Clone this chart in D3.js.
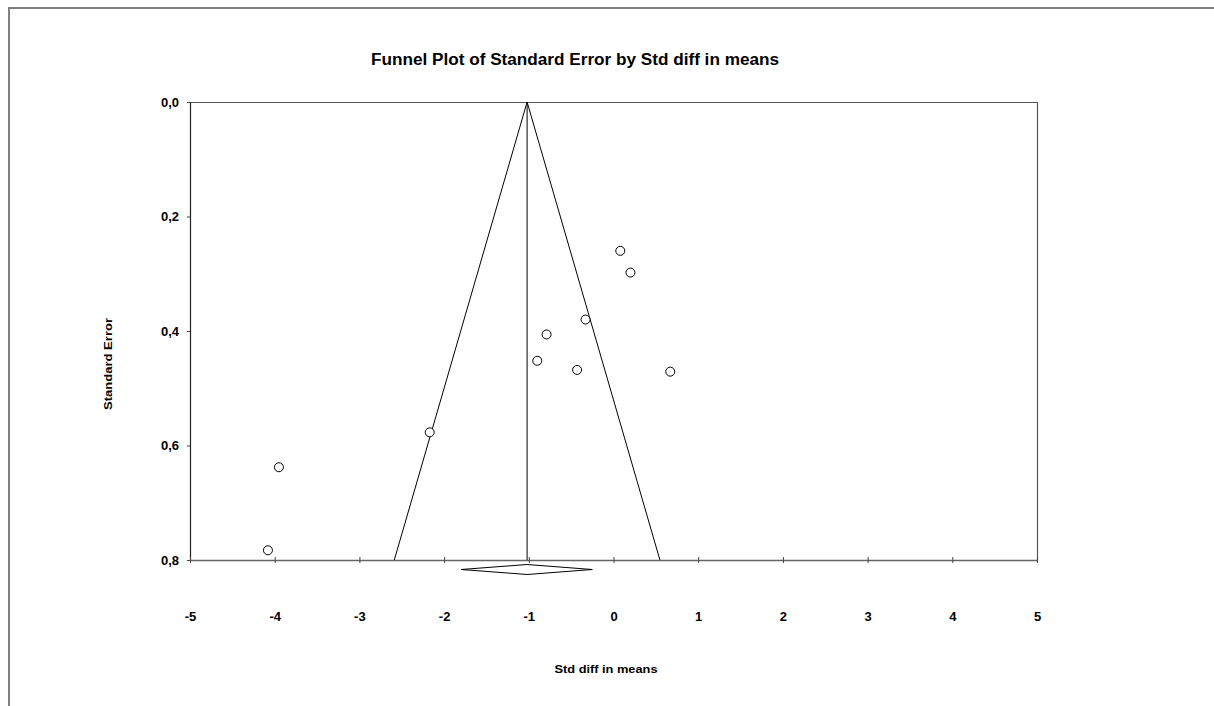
<!DOCTYPE html>
<html>
<head>
<meta charset="utf-8">
<script src="https://cdn.jsdelivr.net/npm/d3@7"></script>
<style>
  html, body { margin: 0; padding: 0; background: #fff; }
  svg { display: block; }
  text { font-family: "Liberation Sans", Arial, sans-serif; fill: #000; }
</style>
</head>
<body>
<svg id="chart" width="1214" height="706"></svg>
<script>
// Study-level effects (standardized difference in means) and their standard errors
const studyEffect = [-4.08, -3.95, -2.17, -0.90, -0.79, -0.43, -0.33, 0.08, 0.20, 0.67];
const studySE     = [0.783, 0.638, 0.577, 0.452, 0.406, 0.468, 0.380, 0.260, 0.298, 0.471];

// Pooled estimate and its 95% confidence interval
const pooledEffect = -1.02;
const pooledLower  = -1.80;
const pooledUpper  = -0.25;

// Axis ticks
const xTicks = [-5, -4, -3, -2, -1, 0, 1, 2, 3, 4, 5];
const yTicks = [0.0, 0.2, 0.4, 0.6, 0.8];
const seMax = 0.8;

const svg = d3.select("#chart");

// Outer frame (left and top edges)
svg.append("path")
  .attr("d", "M9,706 L9,8 L1214,8")
  .attr("fill", "none")
  .attr("stroke", "#808080")
  .attr("stroke-width", 2);

const plot = { left: 190, right: 1037, top: 102, bottom: 560 };

const x = d3.scaleLinear().domain([-5, 5]).range([plot.left, plot.right]);
const y = d3.scaleLinear().domain([0, seMax]).range([plot.top, plot.bottom]);

// Title
svg.append("text")
  .attr("x", 575).attr("y", 65)
  .attr("text-anchor", "middle")
  .attr("font-weight", "bold")
  .attr("font-size", 16)
  .attr("textLength", 408)
  .attr("lengthAdjust", "spacingAndGlyphs")
  .text("Funnel Plot of Standard Error by Std diff in means");

// Plot box: top and right edges
svg.append("path")
  .attr("d", `M${plot.left},${plot.top + 0.5} L${plot.right + 0.5},${plot.top + 0.5} L${plot.right + 0.5},${plot.bottom}`)
  .attr("fill", "none")
  .attr("stroke", "#555")
  .attr("stroke-width", 1.2);

// Y axis (standard error, increasing downward)
const yAxis = svg.append("g")
  .attr("transform", `translate(${plot.left},0)`)
  .call(d3.axisLeft(y)
    .tickValues(yTicks)
    .tickSize(3)
    .tickPadding(8)
    .tickSizeOuter(0)
    .tickFormat(d => d3.format(".1f")(d).replace(".", ",")));
yAxis.select(".domain").attr("stroke", "#222").attr("stroke-width", 1.2);
yAxis.selectAll(".tick line").attr("stroke", "#444");
yAxis.selectAll("text")
  .attr("font-family", "'Liberation Sans', Arial, sans-serif")
  .attr("font-weight", "bold")
  .attr("font-size", 13)
  .attr("fill", "#000");

// X axis (std diff in means)
const xAxis = svg.append("g")
  .attr("transform", `translate(0,${plot.bottom})`)
  .call(d3.axisBottom(x)
    .tickValues(xTicks)
    .tickSize(3)
    .tickSizeOuter(0)
    .tickFormat(d3.format("d")));
xAxis.select(".domain").attr("stroke", "#666").attr("stroke-width", 1.5);
xAxis.selectAll(".tick line").attr("y1", -3).attr("y2", 3).attr("stroke", "#444");
xAxis.selectAll("text")
  .attr("y", 56)
  .attr("dy", "0.35em")
  .attr("font-family", "'Liberation Sans', Arial, sans-serif")
  .attr("font-weight", "bold")
  .attr("font-size", 13)
  .attr("fill", "#000")
  .text(d => d < 0 ? "-" + Math.abs(d) : String(d));

// Axis titles
svg.append("text")
  .attr("transform", `translate(112,364) rotate(-90)`)
  .attr("text-anchor", "middle")
  .attr("font-weight", "bold")
  .attr("font-size", 11.5)
  .attr("textLength", 92)
  .attr("lengthAdjust", "spacingAndGlyphs")
  .text("Standard Error");

svg.append("text")
  .attr("x", 606).attr("y", 673)
  .attr("text-anchor", "middle")
  .attr("font-weight", "bold")
  .attr("font-size", 11.5)
  .attr("textLength", 103)
  .attr("lengthAdjust", "spacingAndGlyphs")
  .text("Std diff in means");

// Funnel: pooled effect line and 95% pseudo-confidence limits
const line = d3.line().x(d => x(d[0])).y(d => y(d[1]));
const funnel = [
  [pooledEffect - 1.96 * seMax, seMax],
  [pooledEffect, 0],
  [pooledEffect + 1.96 * seMax, seMax]
];
svg.append("path")
  .attr("d", line(funnel))
  .attr("fill", "none")
  .attr("stroke", "#000")
  .attr("stroke-width", 1);
svg.append("path")
  .attr("d", line([[pooledEffect, 0], [pooledEffect, seMax]]))
  .attr("fill", "none")
  .attr("stroke", "#000")
  .attr("stroke-width", 1);

// Pooled estimate diamond below the axis
const dCy = plot.bottom + 9.5, dH = 5;
svg.append("path")
  .attr("d", `M${x(pooledLower)},${dCy} L${x(pooledEffect)},${dCy - dH} L${x(pooledUpper)},${dCy} L${x(pooledEffect)},${dCy + dH} Z`)
  .attr("fill", "#fff")
  .attr("stroke", "#000")
  .attr("stroke-width", 1);

// Studies
svg.append("g")
  .selectAll("circle")
  .data(studyEffect.map((e, i) => ({ e, se: studySE[i] })))
  .join("circle")
  .attr("cx", d => x(d.e))
  .attr("cy", d => y(d.se))
  .attr("r", 4.5)
  .attr("fill", "#fff")
  .attr("stroke", "#000")
  .attr("stroke-width", 1);
</script>
</body>
</html>
